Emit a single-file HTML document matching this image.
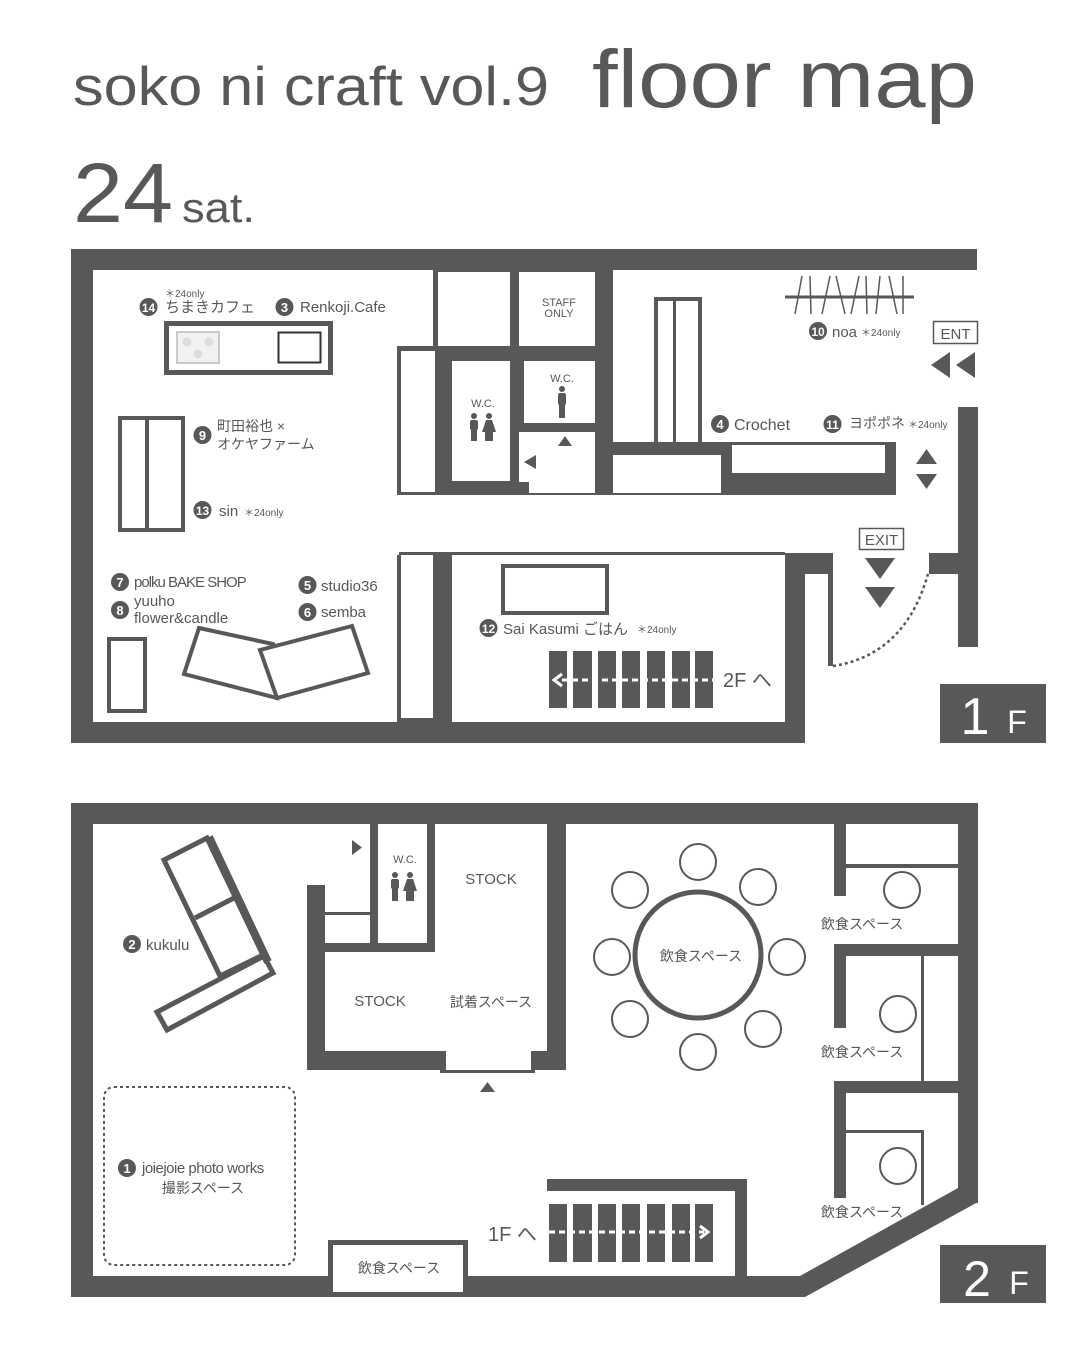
<!DOCTYPE html>
<html><head><meta charset="utf-8"><style>
html,body{margin:0;padding:0;background:#fff;}
svg{display:block;}
text{font-family:"Liberation Sans","Noto Sans CJK JP",sans-serif;fill:#595757;}
.w{fill:#fff;}
</style></head><body>
<svg width="1080" height="1350" viewBox="0 0 1080 1350" xmlns="http://www.w3.org/2000/svg">
<rect width="1080" height="1350" fill="#fff"/>
<g fill="#595757">
<!-- Title -->
<text x="73" y="105" font-size="55" textLength="476" lengthAdjust="spacingAndGlyphs">soko ni craft vol.9</text>
<text x="592" y="107" font-size="82" textLength="385" lengthAdjust="spacingAndGlyphs">floor map</text>
<text x="73" y="222" font-size="84" textLength="100" lengthAdjust="spacingAndGlyphs">24</text>
<text x="182" y="222" font-size="42" textLength="73" lengthAdjust="spacingAndGlyphs">sat.</text>

<!-- ===== 1F ===== -->
<rect x="71" y="249" width="906" height="21"/>
<rect x="71" y="249" width="22" height="494"/>
<rect x="71" y="722" width="734" height="21"/>
<rect x="958" y="407" width="20" height="240"/>
<rect x="929" y="553" width="30" height="21"/>
<rect x="785" y="553" width="20" height="190"/>
<rect x="785" y="553" width="48" height="21"/>
<rect x="828" y="553" width="5" height="113"/>
<path d="M833 666 Q905 655 928 574" fill="none" stroke="#595757" stroke-width="2.5" stroke-dasharray="3 3"/>

<!-- central block -->
<rect x="433" y="270" width="180" height="76"/>
<rect x="438" y="272" width="72" height="74" class="w"/>
<rect x="519" y="272" width="76" height="74" class="w"/>
<rect x="397" y="346" width="216" height="149"/>
<rect x="401" y="351" width="34" height="141" class="w"/>
<rect x="452" y="361" width="58" height="120" class="w"/>
<rect x="524" y="361" width="71" height="62" class="w"/>
<rect x="519" y="432" width="76" height="61" class="w"/>
<rect x="519" y="482" width="10" height="12"/>
<rect x="595" y="270" width="18" height="225"/>
<rect x="595" y="442" width="301" height="53"/>
<rect x="613" y="455" width="108" height="38" class="w"/>
<rect x="732" y="445" width="153" height="28" class="w"/>
<rect x="654" y="297" width="48" height="146"/>
<rect x="658" y="301" width="15" height="141" class="w"/>
<rect x="676" y="301" width="22" height="141" class="w"/>
<text x="559" y="306" font-size="11" text-anchor="middle">STAFF</text>
<text x="559" y="317" font-size="11" text-anchor="middle">ONLY</text>
<text x="483" y="407" font-size="11" text-anchor="middle">W.C.</text>
<text x="562" y="382" font-size="11" text-anchor="middle">W.C.</text>
<!-- icons -->
<circle cx="562" cy="389" r="3"/><rect x="558" y="393" width="8" height="12" rx="2"/><rect x="559" y="404" width="6" height="14"/>
<circle cx="474" cy="416" r="3"/><rect x="470" y="420" width="8" height="10" rx="2"/><rect x="471" y="429" width="6" height="12"/>
<circle cx="489" cy="416" r="3"/><path d="M486 420h6l4 12h-3v9h-8v-9h-3z"/>
<path d="M558 446 565 436 572 446z"/>
<path d="M524 462 536 455 536 469z"/>

<!-- bottom room 1F -->
<rect x="399" y="552" width="386" height="3"/>
<rect x="397" y="555" width="4" height="167"/>
<rect x="397" y="718" width="38" height="4"/>
<rect x="433" y="553" width="19" height="170"/>
<rect x="503" y="566" width="104" height="47" fill="none" stroke="#595757" stroke-width="4"/>
<g>
<rect x="549" y="651" width="18" height="57"/><rect x="573" y="651" width="19" height="57"/><rect x="598" y="651" width="18" height="57"/><rect x="622" y="651" width="18" height="57"/><rect x="647" y="651" width="18" height="57"/><rect x="672" y="651" width="18" height="57"/><rect x="695" y="651" width="18" height="57"/>
</g>
<line x1="562" y1="680" x2="715" y2="680" stroke="#fff" stroke-width="3" stroke-dasharray="6 4"/>
<path d="M562 674 554 680 562 686" fill="none" stroke="#fff" stroke-width="3"/>
<text x="723" y="687" font-size="20">2F へ</text>

<!-- furniture 1F -->
<rect x="166.5" y="323.5" width="164" height="49" fill="none" stroke="#595757" stroke-width="5"/>
<rect x="177" y="332" width="42" height="31" fill="#f2f2f2" stroke="#bbb" stroke-width="1.5"/>
<circle cx="187" cy="342" r="4.5" fill="#ddd"/><circle cx="209" cy="342" r="4.5" fill="#ddd"/><circle cx="198" cy="354" r="4.5" fill="#ddd"/>
<rect x="278.5" y="332.5" width="42" height="30" fill="none" stroke="#333" stroke-width="2"/>
<rect x="120" y="418" width="63" height="112" fill="none" stroke="#595757" stroke-width="4"/>
<rect x="145" y="418" width="4" height="112"/>
<rect x="109" y="639" width="36" height="72" fill="none" stroke="#595757" stroke-width="4"/>
<path d="M199 628 273 644 277 698 184 674z" fill="none" stroke="#595757" stroke-width="4" stroke-linejoin="miter"/>
<path d="M260 650 352 626 368 673 277 698z" fill="#fff" stroke="#595757" stroke-width="4"/>

<!-- noa rack -->
<line x1="785" y1="297" x2="914" y2="297" stroke="#595757" stroke-width="3"/>
<g stroke="#595757" stroke-width="1.5">
<line x1="795" y1="314" x2="802" y2="276"/><line x1="810" y1="276" x2="811" y2="314"/>
<line x1="822" y1="314" x2="830" y2="276"/><line x1="836" y1="276" x2="845" y2="314"/>
<line x1="851" y1="314" x2="859" y2="276"/><line x1="866" y1="276" x2="867" y2="314"/>
<line x1="876" y1="314" x2="880" y2="276"/><line x1="889" y1="276" x2="897" y2="314"/>
<line x1="903" y1="276" x2="903" y2="314"/>
</g>

<!-- signs -->
<rect x="933.5" y="321.5" width="44" height="22" fill="none" stroke="#595757" stroke-width="1.5"/>
<text x="955.5" y="339" font-size="15" text-anchor="middle">ENT</text>
<path d="M931 365 950 352 950 378z M956 365 975 352 975 378z"/>
<path d="M916 464 926.5 449 937 464z M916 474 937 474 926.5 489z"/>
<rect x="859.5" y="528.5" width="44" height="21" fill="none" stroke="#595757" stroke-width="1.5"/>
<text x="881.5" y="545" font-size="15" text-anchor="middle">EXIT</text>
<path d="M865 558 895 558 880 579z M865 587 895 587 880 608z"/>
<rect x="940" y="684" width="106" height="59"/>
<text x="975" y="734" font-size="52" class="w" text-anchor="middle" font-weight="normal" style="fill:#fff">1</text>
<text x="1017" y="733" font-size="32" style="fill:#fff" text-anchor="middle">F</text>

<!-- labels 1F -->
<g font-size="15">
<text x="165" y="297" font-size="10">＊24only</text>
<circle cx="148.5" cy="307" r="9"/><text x="148.5" y="312" font-size="12" text-anchor="middle" style="fill:#fff" font-weight="bold">14</text>
<text x="165" y="312" font-size="15">ちまきカフェ</text>
<circle cx="284.5" cy="307" r="9"/><text x="284.5" y="312" font-size="13" text-anchor="middle" style="fill:#fff" font-weight="bold">3</text>
<text x="300" y="312" font-size="15">Renkoji.Cafe</text>
<circle cx="202.5" cy="435" r="9"/><text x="202.5" y="440" font-size="13" text-anchor="middle" style="fill:#fff" font-weight="bold">9</text>
<text x="217" y="431" font-size="14">町田裕也 ×</text>
<text x="217" y="449" font-size="14">オケヤファーム</text>
<circle cx="202.5" cy="510" r="9"/><text x="202.5" y="515" font-size="12" text-anchor="middle" style="fill:#fff" font-weight="bold">13</text>
<text x="219" y="516" font-size="15">sin</text><text x="244" y="516" font-size="10">＊24only</text>
<circle cx="120" cy="582" r="9"/><text x="120" y="587" font-size="13" text-anchor="middle" style="fill:#fff" font-weight="bold">7</text>
<text x="134" y="587" font-size="15" letter-spacing="-1">polku BAKE SHOP</text>
<circle cx="120" cy="610" r="9"/><text x="120" y="615" font-size="13" text-anchor="middle" style="fill:#fff" font-weight="bold">8</text>
<text x="134" y="606" font-size="15">yuuho</text>
<text x="134" y="623" font-size="15">flower&amp;candle</text>
<circle cx="307.5" cy="585" r="9"/><text x="307.5" y="590" font-size="13" text-anchor="middle" style="fill:#fff" font-weight="bold">5</text>
<text x="321" y="591" font-size="15">studio36</text>
<circle cx="307.5" cy="612" r="9"/><text x="307.5" y="617" font-size="13" text-anchor="middle" style="fill:#fff" font-weight="bold">6</text>
<text x="321" y="617" font-size="15">semba</text>
<circle cx="488.5" cy="628" r="9"/><text x="488.5" y="633" font-size="12" text-anchor="middle" style="fill:#fff" font-weight="bold">12</text>
<text x="503" y="634" font-size="15">Sai Kasumi ごはん</text><text x="637" y="633" font-size="10">＊24only</text>
<circle cx="818" cy="331" r="9"/><text x="818" y="336" font-size="12" text-anchor="middle" style="fill:#fff" font-weight="bold">10</text>
<text x="832" y="337" font-size="15">noa</text><text x="861" y="336" font-size="10">＊24only</text>
<circle cx="720" cy="424" r="9"/><text x="720" y="429" font-size="13" text-anchor="middle" style="fill:#fff" font-weight="bold">4</text>
<text x="734" y="430" font-size="16">Crochet</text>
<circle cx="832.5" cy="424" r="9"/><text x="832.5" y="429" font-size="12" text-anchor="middle" style="fill:#fff" font-weight="bold">11</text>
<text x="849" y="428" font-size="14">ヨポポネ</text><text x="908" y="428" font-size="10">＊24only</text>
</g>

<!-- ===== 2F ===== -->
<rect x="71" y="803" width="907" height="21"/>
<rect x="71" y="803" width="22" height="494"/>
<rect x="71" y="1276" width="734" height="21"/>
<rect x="958" y="803" width="20" height="400"/>
<path d="M978 1202 805 1297 800 1276 958 1188z"/>

<!-- cubicles -->
<rect x="834" y="824" width="12" height="72"/>
<rect x="846" y="864" width="112" height="4"/>
<rect x="834" y="944" width="124" height="12"/>
<rect x="834" y="944" width="12" height="84"/>
<rect x="921" y="956" width="3" height="125"/>
<rect x="834" y="1081" width="124" height="12"/>
<rect x="834" y="1081" width="12" height="117"/>
<rect x="846" y="1130" width="78" height="3"/>
<rect x="921" y="1130" width="3" height="75"/>
<g fill="none" stroke="#595757" stroke-width="2">
<circle cx="902" cy="890" r="18"/><circle cx="898" cy="1014" r="18"/><circle cx="898" cy="1166" r="18"/>
<circle cx="698" cy="862" r="18"/><circle cx="630" cy="890" r="18"/><circle cx="758" cy="887" r="18"/>
<circle cx="612" cy="957" r="18"/><circle cx="787" cy="957" r="18"/><circle cx="630" cy="1019" r="18"/>
<circle cx="763" cy="1029" r="18"/><circle cx="698" cy="1052" r="18"/>
</g>
<circle cx="698" cy="955" r="63" fill="none" stroke="#595757" stroke-width="5"/>
<g font-size="14">
<text x="701" y="961" text-anchor="middle">飲食スペース</text>
<text x="821" y="929">飲食スペース</text>
<text x="821" y="1057">飲食スペース</text>
<text x="821" y="1217">飲食スペース</text>
</g>

<!-- stock block -->
<rect x="547" y="824" width="19" height="246"/>
<rect x="307" y="885" width="18" height="185"/>
<rect x="307" y="1051" width="139" height="19"/>
<rect x="531" y="1051" width="35" height="19"/>
<rect x="440" y="1070" width="95" height="3"/>
<rect x="370" y="824" width="8" height="128"/>
<rect x="427" y="824" width="8" height="128"/>
<rect x="325" y="943" width="110" height="9"/>
<rect x="325" y="912" width="45" height="3"/>
<path d="M352 840 362 847.5 352 855z"/>
<path d="M480 1092 487.5 1082 495 1092z"/>
<text x="405" y="863" font-size="11" text-anchor="middle">W.C.</text>
<circle cx="395" cy="875" r="3"/><rect x="391" y="879" width="8" height="10" rx="2"/><rect x="392" y="888" width="6" height="13"/>
<circle cx="410" cy="875" r="3"/><path d="M407 879h6l4 12h-3v10h-8v-10h-3z"/>
<text x="491" y="884" font-size="15" text-anchor="middle">STOCK</text>
<text x="380" y="1006" font-size="15" text-anchor="middle">STOCK</text>
<text x="491" y="1007" font-size="14" text-anchor="middle">試着スペース</text>

<!-- kukulu shelf -->
<g fill="none" stroke="#595757" stroke-width="5" stroke-linejoin="miter">
<path d="M164 860 207 838 263 955 220 976z"/>
<line x1="195" y1="918" x2="234" y2="898"/>
<path d="M157 1012 264 956 273 973 167 1030z"/>
</g>
<line x1="209" y1="837" x2="268" y2="962" stroke="#595757" stroke-width="8"/>
<circle cx="132" cy="944" r="9"/><text x="132" y="949" font-size="13" text-anchor="middle" style="fill:#fff" font-weight="bold">2</text>
<text x="146" y="950" font-size="15">kukulu</text>

<rect x="104" y="1087" width="191" height="178" rx="10" fill="none" stroke="#595757" stroke-width="2" stroke-dasharray="3 3"/>
<circle cx="127" cy="1168" r="9"/><text x="127" y="1173" font-size="13" text-anchor="middle" style="fill:#fff" font-weight="bold">1</text>
<text x="142" y="1173" font-size="15" letter-spacing="-0.5">joiejoie photo works</text>
<text x="203" y="1193" font-size="14" text-anchor="middle">撮影スペース</text>

<rect x="328" y="1240" width="140" height="52"/>
<rect x="333" y="1245" width="130" height="47" class="w"/>
<text x="399" y="1273" font-size="14" text-anchor="middle">飲食スペース</text>

<!-- stairs 2F -->
<rect x="547" y="1179" width="200" height="12"/>
<rect x="735" y="1179" width="12" height="100"/>
<g>
<rect x="549" y="1204" width="18" height="58"/><rect x="573" y="1204" width="19" height="58"/><rect x="598" y="1204" width="18" height="58"/><rect x="622" y="1204" width="18" height="58"/><rect x="647" y="1204" width="18" height="58"/><rect x="672" y="1204" width="18" height="58"/><rect x="695" y="1204" width="18" height="58"/>
</g>
<line x1="549" y1="1232" x2="704" y2="1232" stroke="#fff" stroke-width="3" stroke-dasharray="6 4"/>
<path d="M700 1226 708 1232 700 1238" fill="none" stroke="#fff" stroke-width="3"/>
<text x="488" y="1241" font-size="20">1F へ</text>

<rect x="940" y="1245" width="106" height="58"/>
<text x="977" y="1296" font-size="50" text-anchor="middle" style="fill:#fff">2</text>
<text x="1019" y="1294" font-size="32" text-anchor="middle" style="fill:#fff">F</text>
</g>
</svg>
</body></html>
